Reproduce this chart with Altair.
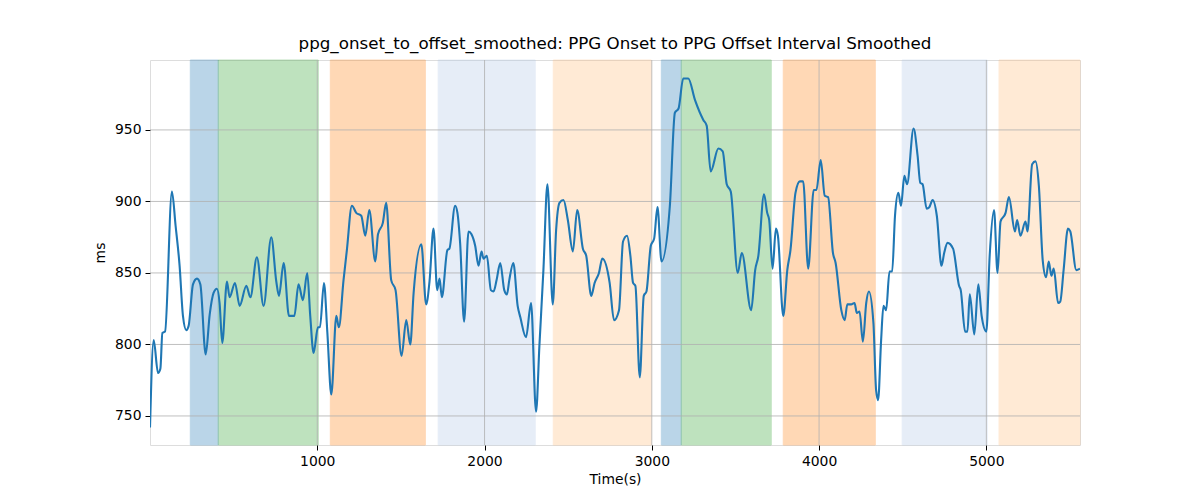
import altair as alt
import pandas as pd

# ---- data ----
time_s = [0, 22, 48, 62, 74, 90, 131, 153, 177, 197, 217, 231, 257, 281, 301, 333, 357, 380, 400, 416,
          432, 460, 476, 508, 536, 576, 600, 639, 679, 725, 755, 771, 799, 831, 863, 888, 914, 940, 958, 978,
          1004, 1016, 1040, 1060, 1084, 1114, 1129, 1157, 1177, 1207, 1233, 1263, 1287, 1311, 1347, 1363, 1392, 1412, 1442, 1468,
          1504, 1532, 1556, 1576, 1622, 1651, 1671, 1695, 1717, 1731, 1745, 1778, 1790, 1824, 1838, 1854, 1878, 1904, 1922, 1944,
          1964, 1982, 1994, 2014, 2038, 2054, 2072, 2094, 2118, 2134, 2148, 2172, 2198, 2214, 2248, 2278, 2308, 2328, 2352, 2376,
          2408, 2428, 2448, 2472, 2498, 2528, 2554, 2588, 2608, 2638, 2658, 2684, 2704, 2748, 2774, 2804, 2828, 2852, 2872, 2888,
          2902, 2928, 2952, 2968, 2994, 3014, 3034, 3058, 3108, 3138, 3160, 3188, 3218, 3258, 3308, 3328, 3352, 3398, 3424, 3448,
          3472, 3514, 3538, 3594, 3618, 3637, 3671, 3690, 3702, 3722, 3742, 3754, 3786, 3810, 3829, 3859, 3885, 3905, 3935, 3968,
          3984, 4010, 4034, 4054, 4083, 4099, 4133, 4153, 4169, 4192, 4212, 4226, 4242, 4262, 4282, 4298, 4325, 4341, 4353, 4371,
          4385, 4401, 4421, 4437, 4454, 4474, 4490, 4510, 4526, 4565, 4589, 4605, 4619, 4643, 4659, 4679, 4704, 4732, 4748, 4768,
          4801, 4837, 4847, 4873, 4887, 4901, 4928, 4952, 4972, 5000, 5020, 5046, 5067, 5085, 5115, 5135, 5171, 5184, 5204, 5234,
          5246, 5274, 5294, 5314, 5337, 5357, 5373, 5389, 5403, 5429, 5442, 5462, 5488, 5502, 5538, 5560]
interval_ms = [742, 803, 780, 783, 808, 809, 907, 883, 855, 820, 810, 813, 842, 846, 842, 793, 821, 836, 839, 829,
               801, 844, 833, 843, 827, 841, 833, 861, 827, 875, 844, 834, 857, 820, 820, 842, 831, 850, 820, 794,
               812, 812, 843, 809, 765, 820, 812, 845, 866, 897, 892, 890, 876, 894, 858, 877, 885, 899, 845, 838,
               792, 817, 800, 836, 870, 828, 844, 881, 838, 846, 833, 866, 867, 897, 892, 871, 816, 879, 877, 869,
               855, 865, 860, 862, 838, 837, 845, 857, 838, 835, 845, 857, 827, 819, 805, 829, 753, 799, 852, 912,
               828, 880, 899, 901, 887, 865, 894, 867, 862, 834, 843, 850, 860, 843, 817, 824, 872, 876, 862, 843,
               841, 777, 834, 837, 869, 874, 896, 858, 897, 962, 965, 986, 986, 971, 957, 953, 921, 937, 935, 912,
               907, 850, 864, 824, 852, 862, 905, 892, 887, 853, 881, 876, 820, 852, 866, 906, 914, 914, 853, 908,
               908, 929, 904, 903, 864, 857, 824, 817, 828, 828, 829, 822, 823, 802, 829, 837, 815, 768, 761, 803,
               827, 824, 851, 851, 890, 906, 897, 918, 912, 951, 932, 913, 912, 895, 896, 901, 890, 855, 864, 871,
               867, 841, 838, 809, 809, 835, 807, 842, 820, 809, 862, 894, 850, 886, 892, 903, 879, 887, 876, 886,
               879, 926, 928, 911, 859, 847, 858, 848, 853, 829, 830, 852, 881, 879, 852, 853]

band_start = [241, 408, 1078, 1723, 2411, 3057, 3176, 3786, 4497, 5076]
band_end = [408, 1006, 1646, 2303, 2997, 3176, 3714, 4336, 5005, 5560]
band_color = ["#1f77b4", "#2ca02c", "#ff7f0e", "#aec7e8", "#ffbb78",
              "#1f77b4", "#2ca02c", "#ff7f0e", "#aec7e8", "#ffbb78"]

x_ticks = [1000, 2000, 3000, 4000, 5000]
y_ticks = [750, 800, 850, 900, 950]

X_DOMAIN = [0, 5560]
Y_DOMAIN = [729.7, 998.9]

line_df = pd.DataFrame({"t": time_s, "v": interval_ms})
band_df = pd.DataFrame({"start": band_start, "end": band_end, "color": band_color})
xgrid_df = pd.DataFrame({"t": x_ticks})
ygrid_df = pd.DataFrame({"v": y_ticks})

FONT = "DejaVu Sans"

x_scale = alt.Scale(domain=X_DOMAIN, nice=False, zero=False)
y_scale = alt.Scale(domain=Y_DOMAIN, nice=False, zero=False)

x_axis = alt.Axis(values=x_ticks, title="Time(s)", grid=False, format="d",
                  labelFont=FONT, labelFontSize=13.9, labelColor="black",
                  titleFont=FONT, titleFontSize=13.9, titleFontWeight="normal", titleColor="black",
                  tickColor="black", tickSize=5, labelPadding=4, titlePadding=5, domain=False)
y_axis = alt.Axis(values=y_ticks, title="ms", grid=False, format="d",
                  labelFont=FONT, labelFontSize=13.9, labelColor="black",
                  titleFont=FONT, titleFontSize=13.9, titleFontWeight="normal", titleColor="black",
                  tickColor="black", tickSize=5, labelPadding=4, titlePadding=7, domain=False)

bands = alt.Chart(band_df).mark_rect(opacity=0.3, strokeWidth=1).encode(
    x=alt.X("start:Q", scale=x_scale, axis=x_axis),
    x2="end:Q",
    color=alt.Color("color:N", scale=None),
    stroke=alt.Stroke("color:N", scale=None),
)

xgrid = alt.Chart(xgrid_df).mark_rule(color="#b0b0b0", strokeWidth=0.8).encode(
    x=alt.X("t:Q", scale=x_scale),
)
ygrid = alt.Chart(ygrid_df).mark_rule(color="#b0b0b0", strokeWidth=0.8).encode(
    y=alt.Y("v:Q", scale=y_scale, axis=y_axis),
)

line = alt.Chart(line_df).mark_line(color="#1f77b4", strokeWidth=2.1, interpolate="monotone", clip=True).encode(
    x=alt.X("t:Q", scale=x_scale),
    y=alt.Y("v:Q", scale=y_scale),
)

chart = alt.layer(bands, xgrid, ygrid, line).properties(
    width=930,
    height=385,
    title=alt.TitleParams(
        "ppg_onset_to_offset_smoothed: PPG Onset to PPG Offset Interval Smoothed",
        font=FONT, fontSize=16.7, fontWeight="normal", color="black", anchor="middle", offset=7,
    ),
    autosize=alt.AutoSizeParams(type="none"),
    padding={"left": 142, "top": 52, "right": 112, "bottom": 47},
).configure_view(
    stroke="black", strokeWidth=1
).configure(background="white")

chart.save("out.html", embed_options={"renderer": "svg", "actions": False})
